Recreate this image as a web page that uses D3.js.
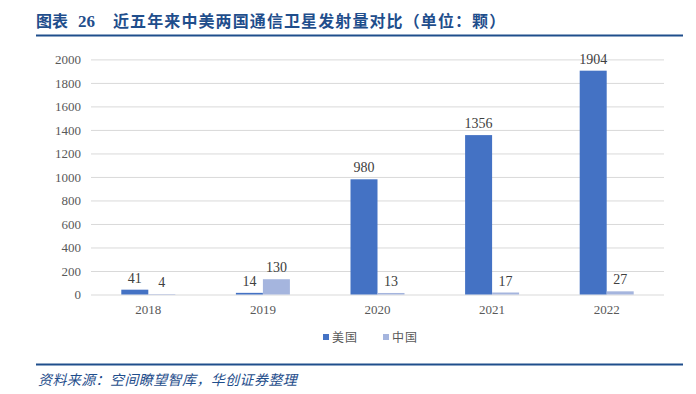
<!DOCTYPE html>
<html>
<head>
	<meta charset="utf-8">
	<title>近五年来中美两国通信卫星发射量对比</title>
	<script src="https://d3js.org/d3.v7.min.js" charset="utf-8"></script>
	<style>
		body { margin: 0; background: #fff; }
	</style>
</head>
<body>
	<svg width="696" height="394"></svg>
	<script>
		// data
		const years = ['2018', '2019', '2020', '2021', '2022'];
		const seriesNames = ['美国', '中国'];
		const usValues = [41, 14, 980, 1356, 1904];
		const cnValues = [4, 130, 13, 17, 27];
		const yTicks = [0, 200, 400, 600, 800, 1000, 1200, 1400, 1600, 1800, 2000];

		const colors = ['#4472C4', '#A5B5DE'];
		const serif = '"Liberation Serif", "Times New Roman", serif';
		const cjk = '"Noto Sans CJK SC", sans-serif';

		const svg = d3.select('svg');

		// header
		svg.append('text')
			.attr('x', 36).attr('y', 27)
			.attr('fill', '#1F4E8C')
			.style('font-family', cjk)
			.style('font-weight', 'bold')
			.style('font-size', '16px')
			.text('图表');
		svg.append('text')
			.attr('x', 78).attr('y', 27)
			.attr('fill', '#1F4E8C')
			.style('font-family', serif)
			.style('font-weight', 'bold')
			.style('font-size', '17px')
			.text('26');
		svg.append('text')
			.attr('x', 113).attr('y', 27)
			.attr('fill', '#1F4E8C')
			.style('font-family', cjk)
			.style('font-weight', 'bold')
			.style('font-size', '16px')
			.style('letter-spacing', '1.1px')
			.text('近五年来中美两国通信卫星发射量对比（单位：颗）');
		svg.append('line')
			.attr('x1', 36).attr('x2', 683).attr('y1', 35.5).attr('y2', 35.5)
			.attr('stroke', '#1F4E8C').attr('stroke-width', 2);

		// chart area
		const plotLeft = 91, plotRight = 664, plotTop = 59.4, plotBottom = 294.5;
		const barW = 27;

		const x = d3.scaleBand().domain(years).range([plotLeft, plotRight]);
		// two bars of ~27px each, centred in the band
		const x1 = d3.scaleBand().domain(seriesNames)
			.range([x.bandwidth() / 2 - barW, x.bandwidth() / 2 + barW]);

		const y = d3.scaleLinear().domain([0, 2000]).range([plotBottom, plotTop]);

		// gridlines
		const grid = svg.append('g')
			.attr('transform', `translate(${plotLeft},0)`)
			.call(d3.axisLeft(y).tickValues(yTicks).tickSize(-(plotRight - plotLeft)).tickFormat(''));
		grid.select('.domain').remove();
		grid.selectAll('line').attr('stroke', '#D9D9D9').attr('stroke-width', 1);

		// y axis labels
		const yAxis = svg.append('g')
			.attr('transform', `translate(${plotLeft},0)`)
			.call(d3.axisLeft(y).tickValues(yTicks).tickSize(0).tickPadding(10).tickFormat(d3.format('d')));
		yAxis.select('.domain').remove();
		yAxis.selectAll('text')
			.attr('fill', '#595959')
			.style('font-family', serif)
			.style('font-size', '13px');

		// x axis labels
		const xAxis = svg.append('g')
			.attr('transform', `translate(0,${plotBottom})`)
			.call(d3.axisBottom(x).tickSize(0).tickPadding(10));
		xAxis.select('.domain').remove();
		xAxis.selectAll('text')
			.attr('fill', '#595959')
			.style('font-family', serif)
			.style('font-size', '13px');

		const rows = years.map((yr, i) => ({ year: yr, vals: [usValues[i], cnValues[i]] }));

		const groups = svg.append('g').selectAll('g')
			.data(rows).join('g')
			.attr('transform', d => `translate(${x(d.year)},0)`);

		groups.selectAll('rect')
			.data(d => d.vals.map((v, k) => ({ name: seriesNames[k], value: v, k })))
			.join('rect')
			.attr('x', d => x1(d.name))
			.attr('y', d => y(d.value))
			.attr('width', x1.bandwidth())
			.attr('height', d => y(0) - y(d.value))
			.attr('fill', d => colors[d.k]);

		groups.selectAll('text')
			.data(d => d.vals.map((v, k) => ({ name: seriesNames[k], value: v, k })))
			.join('text')
			.attr('x', d => x1(d.name) + x1.bandwidth() / 2)
			.attr('y', d => y(d.value) - 7)
			.attr('text-anchor', 'middle')
			.attr('fill', '#404040')
			.style('font-family', serif)
			.style('font-size', '14px')
			.text(d => d.value);

		// legend
		const legend = svg.append('g')
			.selectAll('g')
			.data(seriesNames).join('g')
			.attr('transform', (d, i) => `translate(${323 + i * 60},338)`);
		legend.append('rect')
			.attr('x', 0).attr('y', -4).attr('width', 6).attr('height', 6)
			.attr('fill', (d, i) => colors[i]);
		legend.append('text')
			.attr('x', 9).attr('y', 4)
			.attr('fill', '#595959')
			.style('font-family', cjk)
			.style('font-size', '12px')
			.style('letter-spacing', '1px')
			.text(d => d);

		// footer
		svg.append('line')
			.attr('x1', 36).attr('x2', 683).attr('y1', 364.5).attr('y2', 364.5)
			.attr('stroke', '#1F4E8C').attr('stroke-width', 2);
		svg.append('text')
			.attr('x', 38).attr('y', 385)
			.attr('fill', '#1F4E8C')
			.style('font-family', cjk)
			.style('font-style', 'italic')
			.style('font-size', '14px')
			.style('letter-spacing', '0.4px')
			.text('资料来源：空间瞭望智库，华创证券整理');
	</script>
</body>
</html>
